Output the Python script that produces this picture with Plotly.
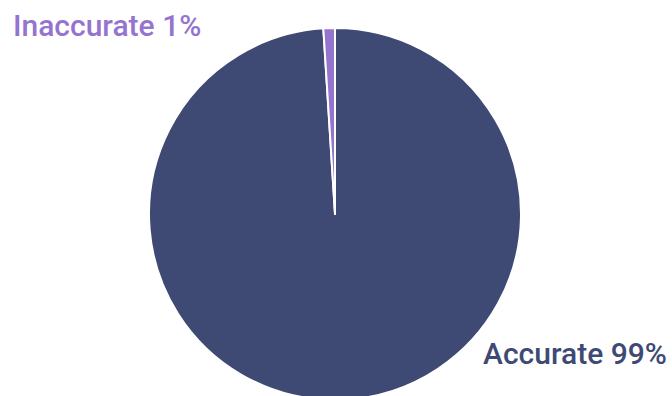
import plotly.graph_objects as go

labels = ["Accurate", "Inaccurate"]
values = [99, 1]
colors = ["#3E4A74", "#9574CF"]

H = 420
fig = go.Figure()
fig.add_trace(go.Pie(
    labels=labels, values=values, sort=False, direction="clockwise", rotation=0,
    marker=dict(colors=colors, line=dict(color="white", width=2)),
    textinfo="none", hoverinfo="label+percent",
    domain=dict(x=[149/672, 521/672], y=[(H-400)/H, (H-28)/H]),
    showlegend=False,
))

font = "Roboto"
fig.add_annotation(text=f"{labels[1]} {values[1]}%", x=11/672, y=(H-25)/H, xref="paper", yref="paper",
                   xanchor="left", yanchor="middle", showarrow=False,
                   font=dict(family=font, size=30, color=colors[1], weight=500))
fig.add_annotation(text=f"{labels[0]} {values[0]}%", x=669/672, y=(H-353)/H, xref="paper", yref="paper",
                   xanchor="right", yanchor="middle", showarrow=False,
                   font=dict(family=font, size=30, color=colors[0], weight=500))

fig.update_layout(width=672, height=H, margin=dict(l=0, r=0, t=0, b=0),
                  paper_bgcolor="white", plot_bgcolor="white")
fig.write_html("out.html", post_script="document.body.style.overflow='hidden';")
